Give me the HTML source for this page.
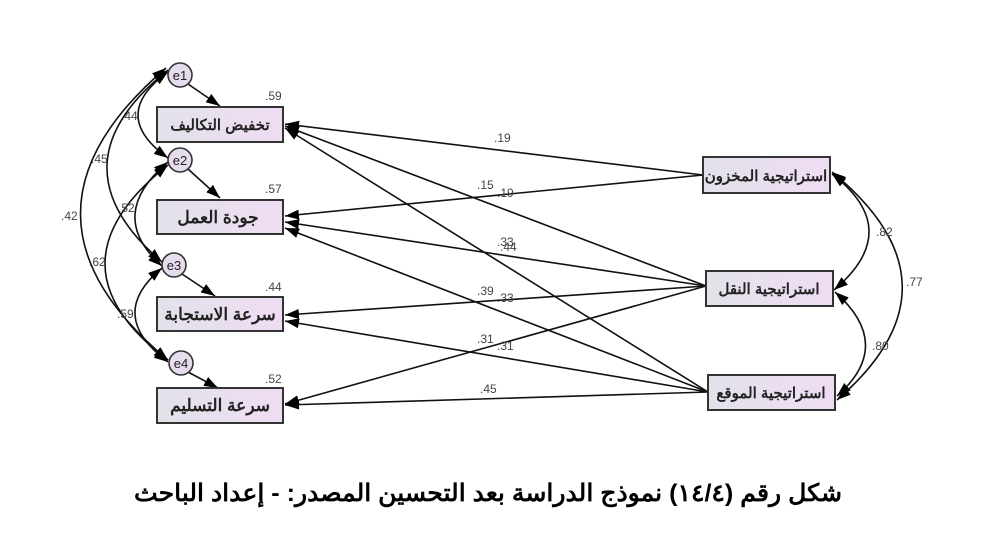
<!DOCTYPE html>
<html><head><meta charset="utf-8"><style>
body{margin:0;background:#fff;}
svg{display:block;}
.bx{fill:url(#g);stroke:#333;stroke-width:2;}
.t{font-family:"Liberation Sans","Noto Sans CJK SC",sans-serif;font-weight:bold;font-size:15px;fill:#222;}
.n{font-family:"Liberation Sans",sans-serif;font-size:12px;fill:#444;}
.l{stroke:#111;stroke-width:1.6;fill:none;}
</style></head><body>
<svg width="1000" height="545" viewBox="0 0 1000 545">
<defs>
<linearGradient id="g" x1="0" x2="1"><stop offset="0" stop-color="#e2e2ea"/><stop offset="1" stop-color="#efdcf3"/></linearGradient>
<marker id="b" markerWidth="14" markerHeight="10" refX="14" refY="5" orient="auto" markerUnits="userSpaceOnUse" viewBox="0 0 14 10"><path d="M0,0 L14,5 L0,10z" fill="#000"/></marker>
<marker id="bs" markerWidth="14" markerHeight="10" refX="0" refY="5" orient="auto" markerUnits="userSpaceOnUse" viewBox="0 0 14 10"><path d="M14,0 L0,5 L14,10z" fill="#000"/></marker>
</defs>
<g class="l" marker-end="url(#b)">
<line x1="703" y1="175" x2="285" y2="124"/>
<line x1="703" y1="175" x2="285" y2="216"/>
<line x1="706" y1="286" x2="285" y2="126"/>
<line x1="706" y1="286" x2="285" y2="222"/>
<line x1="706" y1="286" x2="285" y2="315"/>
<line x1="706" y1="286" x2="285" y2="404"/>
<line x1="708" y1="392" x2="285" y2="128"/>
<line x1="708" y1="392" x2="285" y2="228"/>
<line x1="708" y1="392" x2="285" y2="321"/>
<line x1="708" y1="392" x2="285" y2="405"/>
</g>
<text class="n" x="494" y="142">.19</text>
<text class="n" x="477" y="189">.15</text>
<text class="n" x="497" y="197">.19</text>
<text class="n" x="497" y="246">.33</text>
<text class="n" x="500" y="251">.44</text>
<text class="n" x="477" y="295">.39</text>
<text class="n" x="497" y="302">.33</text>
<text class="n" x="477" y="343">.31</text>
<text class="n" x="497" y="350">.31</text>
<text class="n" x="480" y="393">.45</text>
<g class="l" marker-end="url(#b)">
<line x1="188" y1="84" x2="220" y2="106"/>
<line x1="188" y1="169" x2="220" y2="198"/>
<line x1="182" y1="274" x2="215" y2="296"/>
<line x1="188" y1="372" x2="218" y2="388"/>
</g>
<g class="l" marker-end="url(#b)" marker-start="url(#bs)">
<path d="M168,72 Q108,115 168,158"/>
<path d="M168,70 Q49,165 162,262"/>
<path d="M166,68 Q-6,215 168,360"/>
<path d="M168,162 Q105,215 162,266"/>
<path d="M168,165 Q42,265 168,360"/>
<path d="M162,268 Q105,315 168,362"/>
</g>
<text class="n" x="121" y="120">.44</text>
<text class="n" x="91" y="163">.45</text>
<text class="n" x="61" y="220">.42</text>
<text class="n" x="118" y="212">.52</text>
<text class="n" x="89" y="266">.62</text>
<text class="n" x="117" y="318">.59</text>
<g class="l" marker-end="url(#b)" marker-start="url(#bs)">
<path d="M832,174 Q905,230 834,290"/>
<path d="M835,292 Q895,345 837,396"/>
<path d="M832,172 Q970,285 837,400"/>
</g>
<text class="n" x="876" y="236">.82</text>
<text class="n" x="872" y="350">.80</text>
<text class="n" x="906" y="286">.77</text>
<g fill="#e6dced" stroke="#333" stroke-width="1.6">
<circle cx="180" cy="75" r="12"/><circle cx="180" cy="160" r="12"/>
<circle cx="174" cy="265" r="12"/><circle cx="181" cy="363" r="12"/>
</g>
<g class="n" style="font-size:13px;fill:#222" text-anchor="middle">
<text x="180" y="80">e1</text><text x="180" y="165">e2</text><text x="174" y="270">e3</text><text x="181" y="368">e4</text>
</g>
<text class="n" x="265" y="100">.59</text>
<text class="n" x="265" y="193">.57</text>
<text class="n" x="265" y="291">.44</text>
<text class="n" x="265" y="383">.52</text>
<rect class="bx" x="157" y="107" width="126" height="35"/>
<rect class="bx" x="157" y="200" width="126" height="34"/>
<rect class="bx" x="157" y="297" width="126" height="34"/>
<rect class="bx" x="157" y="388" width="126" height="35"/>
<g class="t" text-anchor="middle" direction="rtl">
<text x="220" y="130">تخفيض التكاليف</text>
<text x="218" y="223" style="font-size:17px">جودة العمل</text>
<text x="220" y="320" style="font-size:17px">سرعة الاستجابة</text>
<text x="220" y="411" style="font-size:17px">سرعة التسليم</text>
</g>
<rect class="bx" x="703" y="157" width="127" height="36"/>
<rect class="bx" x="706" y="271" width="127" height="35"/>
<rect class="bx" x="708" y="375" width="127" height="35"/>
<g class="t" text-anchor="middle" direction="rtl">
<text x="766" y="181">استراتيجية المخزون</text>
<text x="769" y="294">استراتيجية النقل</text>
<text x="771" y="398">استراتيجية الموقع</text>
</g>
<text x="488" y="501" text-anchor="middle" direction="rtl" style="font-family:'Liberation Sans','Noto Sans CJK SC',sans-serif;font-weight:bold;font-size:24px;fill:#000" textLength="708" lengthAdjust="spacingAndGlyphs">شكل رقم (١٤/٤) نموذج الدراسة بعد التحسين المصدر: - إعداد الباحث</text>
</svg>
</body></html>
